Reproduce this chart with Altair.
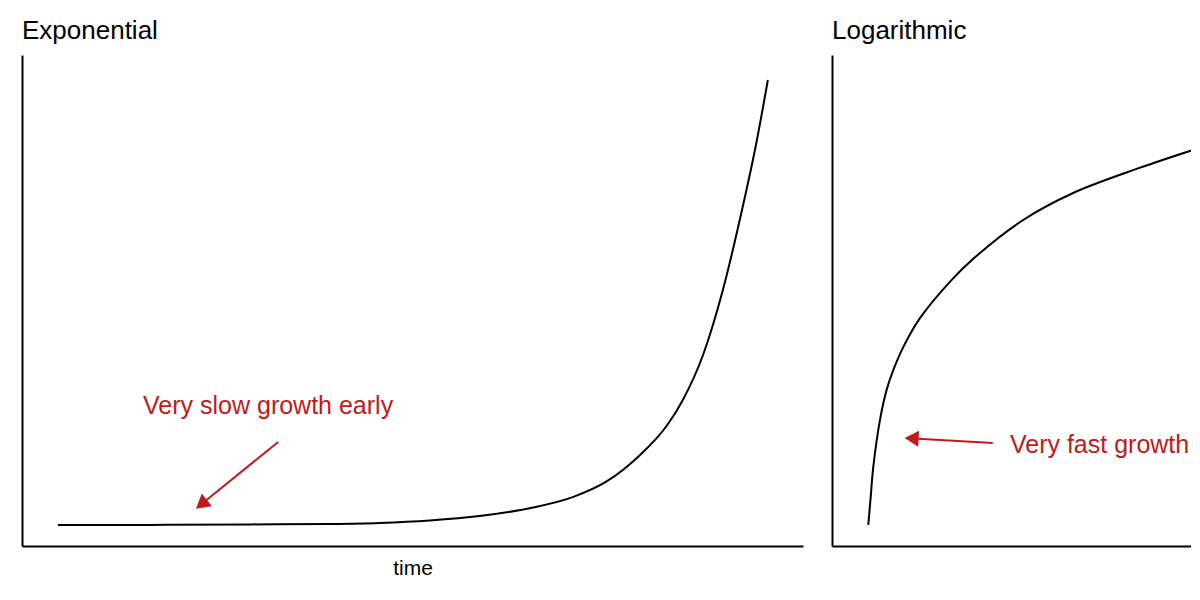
import altair as alt
import pandas as pd

FONT = "Liberation Sans"
RED = "#c21a1c"

# Exponential curve (time 0-100, value 0-100)
exp_time = [4.6, 16.4, 29.2, 39.4, 45.8, 52.2, 58.6, 65.0, 70.6, 74.9, 79.1, 82.6, 84.6, 87.2, 89.8, 91.9, 94.1, 95.5]
exp_value = [4.3, 4.3, 4.4, 4.5, 4.7, 5.2, 6.1, 7.7, 10.0, 13.2, 18.5, 24.6, 29.7, 38.9, 52.5, 66.4, 82.7, 94.9]

# Logarithmic curve (visible part)
log_time = [4.65, 4.96, 5.29, 6.15, 7.0, 7.85, 9.13, 11.27, 15.1, 18.1, 24.5, 30.9, 39.4, 47.1]
log_value = [4.3, 10.0, 16.1, 25.7, 31.8, 35.8, 40.5, 46.4, 53.8, 58.5, 66.4, 71.9, 77.0, 81.1]

# Annotations
exp_note = "Very slow growth early"
exp_note_pos = [15.5, 26.9]
exp_arrow_start = [32.8, 21.2]
exp_arrow_head = [23.2, 8.8]
exp_arrow_angle = 231

log_note = "Very fast growth"
log_note_pos = [22.8, 18.9]
log_arrow_start = [20.6, 21.0]
log_arrow_head = [10.5, 21.9]
log_arrow_angle = 273

exp_df = pd.DataFrame({"time": exp_time, "value": exp_value})
log_df = pd.DataFrame({"time": log_time, "value": log_value})


def axis_x(title):
    return alt.Axis(domain=True, domainColor="black", domainWidth=2, ticks=False, labels=False, grid=False,
                    title=title if title else "", titleFont=FONT, titleFontSize=21, titleFontWeight="normal",
                    titleColor="black", titlePadding=11)


axis_y = alt.Axis(domain=True, domainColor="black", domainWidth=2, ticks=False, labels=False, grid=False, title="")


def panel(df, xdomain, width, xtitle, title, note, note_pos, a_start, a_head, a_angle, interp):
    xs = alt.Scale(domain=xdomain, nice=False, zero=False)
    ys = alt.Scale(domain=[0, 100], nice=False)
    line = alt.Chart(df).mark_line(color="black", strokeWidth=2, interpolate=interp, clip=True).encode(
        x=alt.X("time:Q", scale=xs, axis=axis_x(xtitle)),
        y=alt.Y("value:Q", scale=ys, axis=axis_y),
    )
    arrow_df = pd.DataFrame({"x": [a_start[0]], "y": [a_start[1]], "x2": [a_head[0]], "y2": [a_head[1]],
                             "angle": [a_angle]})
    shaft = alt.Chart(arrow_df).mark_rule(color=RED, strokeWidth=2).encode(
        x=alt.X("x:Q", scale=xs), y=alt.Y("y:Q", scale=ys), x2="x2:Q", y2="y2:Q"
    )
    head = alt.Chart(arrow_df).mark_point(shape="triangle", filled=True, color=RED, opacity=1, size=260).encode(
        x=alt.X("x2:Q", scale=xs), y=alt.Y("y2:Q", scale=ys), angle=alt.Angle("angle:Q", scale=None)
    )
    text_df = pd.DataFrame({"x": [note_pos[0]], "y": [note_pos[1]], "label": [note]})
    text = alt.Chart(text_df).mark_text(align="left", baseline="alphabetic", font=FONT, fontSize=25,
                                        color=RED).encode(
        x=alt.X("x:Q", scale=xs), y=alt.Y("y:Q", scale=ys), text="label:N"
    )
    return alt.layer(line, shaft, head, text).properties(
        width=width, height=491,
        title=alt.TitleParams(title, anchor="start", font=FONT, fontSize=26, fontWeight="normal",
                              color="black", offset=11),
    )


left = panel(exp_df, [0, 100], 781, "time", "Exponential", exp_note, exp_note_pos,
             exp_arrow_start, exp_arrow_head, exp_arrow_angle, "monotone")
right = panel(log_df, [0, 46.0], 359, None, "Logarithmic", log_note, log_note_pos,
              log_arrow_start, log_arrow_head, log_arrow_angle, "catmull-rom")

chart = alt.hconcat(left, right, spacing=29).properties(
    padding={"left": 14, "top": 10, "right": 0, "bottom": 5},
    background="white",
).configure_view(stroke=None, strokeWidth=0)

chart.save("out.html", embed_options={"renderer": "svg", "actions": False})
